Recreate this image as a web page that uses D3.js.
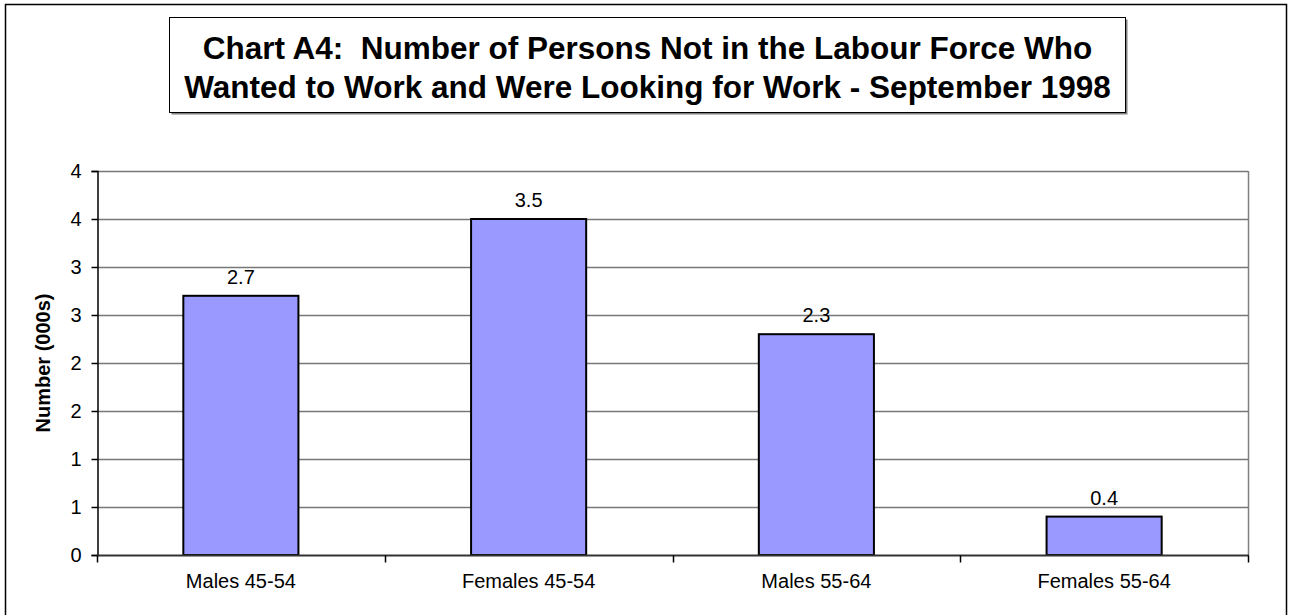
<!DOCTYPE html>
<html>
<head>
<meta charset="utf-8">
<script src="https://cdn.jsdelivr.net/npm/d3@7"></script>
<style>
  html, body { margin: 0; padding: 0; background: #fff; }
  svg { display: block; font-family: "Liberation Sans", Arial, sans-serif; }
</style>
</head>
<body>
<svg id="chart" width="1293" height="615"></svg>
<script>
const categories = ["Males 45-54", "Females 45-54", "Males 55-64", "Females 55-64"];
const values = [2.7, 3.5, 2.3, 0.4];
const valueLabels = ["2.7", "3.5", "2.3", "0.4"];
const tickValues = [0, 0.5, 1, 1.5, 2, 2.5, 3, 3.5, 4];
const tickLabels = ["0", "1", "1", "2", "2", "3", "3", "4", "4"];
const titleLines = ["Chart A4:  Number of Persons Not in the Labour Force Who",
                    "Wanted to Work and Were Looking for Work - September 1998"];
const yTitle = "Number (000s)";

(function () {
const svg = d3.select("#chart");
svg.append("rect").attr("width", 1293).attr("height", 615).attr("fill", "#fff");

// outer frame
svg.append("rect").attr("x", 5.5).attr("y", 4.5).attr("width", 1281).attr("height", 620)
  .attr("fill", "none").attr("stroke", "#000").attr("stroke-width", 1.5);

// title box with shadow
svg.append("rect").attr("x", 171.5).attr("y", 19.5).attr("width", 956).attr("height", 95)
  .attr("fill", "#808080");
svg.append("rect").attr("x", 169.5).attr("y", 17.5).attr("width", 956).attr("height", 95)
  .attr("fill", "#fff").attr("stroke", "#000").attr("stroke-width", 1);
svg.append("g").selectAll("text").data(titleLines).join("text")
  .attr("x", 647.5).attr("y", (d, i) => 58.5 + i * 39)
  .attr("text-anchor", "middle").attr("font-weight", "bold").attr("font-size", 31.5)
  .style("white-space", "pre").attr("xml:space", "preserve")
  .attr("fill", "#000").text(d => d);

const pL = 97, pR = 1248, pT = 171, pB = 555;
const x = d3.scaleBand().domain(categories).range([pL, pR]).paddingInner(0).paddingOuter(0);
const y = d3.scaleLinear().domain([0, 4]).range([pB, pT]);

// gridlines
svg.append("g").selectAll("line").data(tickValues.filter(v => v > 0)).join("line")
  .attr("x1", pL).attr("x2", pR)
  .attr("y1", d => Math.round(y(d)) + 0.5).attr("y2", d => Math.round(y(d)) + 0.5)
  .attr("stroke", "#777").attr("stroke-width", 1.5);
// right plot border
svg.append("line").attr("x1", pR + 0.5).attr("x2", pR + 0.5).attr("y1", pT).attr("y2", pB)
  .attr("stroke", "#808080").attr("stroke-width", 1.5);

// bars
const bw = x.bandwidth() * 0.4;
svg.append("g").selectAll("rect").data(categories).join("rect")
  .attr("x", d => x(d) + (x.bandwidth() - bw) / 2)
  .attr("y", (d, i) => y(values[i]))
  .attr("width", bw)
  .attr("height", (d, i) => y(0) - y(values[i]))
  .attr("fill", "#9999FF").attr("stroke", "#000").attr("stroke-width", 2);

// value labels
svg.append("g").selectAll("text").data(categories).join("text")
  .attr("x", d => x(d) + x.bandwidth() / 2)
  .attr("y", (d, i) => y(values[i]) - 12)
  .attr("text-anchor", "middle").attr("font-size", 20).attr("fill", "#000")
  .text((d, i) => valueLabels[i]);

// y axis
const yAxis = d3.axisLeft(y).tickValues(tickValues).tickSize(6).tickPadding(10)
  .tickFormat((d, i) => tickLabels[i]);
const gy = svg.append("g").attr("transform", `translate(${pL + 0.5},0)`).call(yAxis);
gy.select(".domain").attr("stroke", "#000").attr("stroke-width", 1.5);
gy.selectAll(".tick line").attr("stroke", "#000").attr("stroke-width", 1.5);
gy.selectAll(".tick text").attr("font-size", 20).attr("font-family", "Liberation Sans, Arial, sans-serif").attr("fill", "#000");

// x axis
const xAxis = d3.axisBottom(x).tickSize(0).tickPadding(18);
const gx = svg.append("g").attr("transform", `translate(0,${pB + 0.5})`).call(xAxis);
gx.select(".domain").remove();
gx.append("line").attr("x1", pL).attr("x2", pR + 1).attr("y1", 0).attr("y2", 0)
  .attr("stroke", "#333").attr("stroke-width", 2);
gx.selectAll(".tick text").attr("font-size", 20).attr("font-family", "Liberation Sans, Arial, sans-serif").attr("fill", "#000");
// category boundary ticks
const bounds = categories.map(c => x(c)).concat([pR]);
gx.append("g").selectAll("line").data(bounds).join("line")
  .attr("x1", d => Math.round(d) + 0.5).attr("x2", d => Math.round(d) + 0.5)
  .attr("y1", 0).attr("y2", 7).attr("stroke", "#000").attr("stroke-width", 1.5);

// y title
svg.append("text").attr("transform", `translate(50,363) rotate(-90)`)
  .attr("text-anchor", "middle").attr("font-weight", "bold").attr("font-size", 20)
  .attr("fill", "#000").text(yTitle);
})();
</script>
</body>
</html>
